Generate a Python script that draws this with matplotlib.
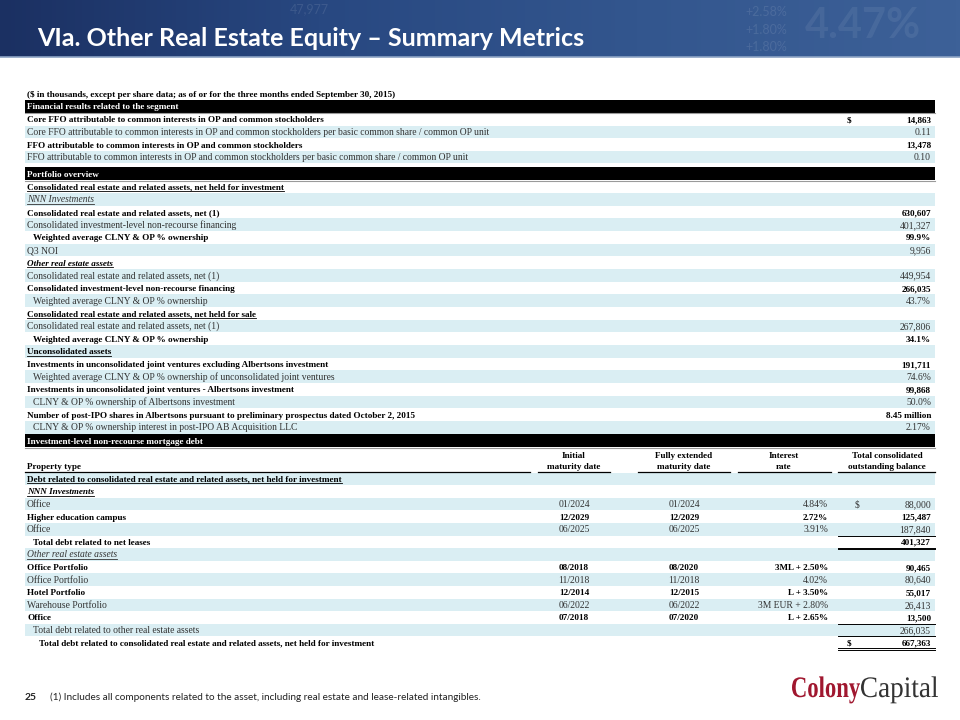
import numpy as np
import matplotlib.pyplot as plt
from matplotlib.colors import LinearSegmentedColormap
from matplotlib.textpath import TextPath
from matplotlib.patches import PathPatch
from matplotlib.font_manager import FontProperties
from matplotlib.transforms import Affine2D

# ---- data ----
subtitle = '($ in thousands, except per share data; as of or for the three months ended September 30, 2015)'

fin_title = 'Financial results related to the segment'
fin_labels = [
    'Core FFO attributable to common interests in OP and common stockholders',
    'Core FFO attributable to common interests in OP and common stockholders per basic common share / common OP unit',
    'FFO attributable to common interests in OP and common stockholders',
    'FFO attributable to common interests in OP and common stockholders per basic common share / common OP unit',
]
fin_values = ['14,863', '0.11', '13,478', '0.10']

port_title = 'Portfolio overview'
port_labels = [
    'Consolidated real estate and related assets, net held for investment',
    'NNN Investments',
    'Consolidated real estate and related assets, net (1)',
    'Consolidated investment-level non-recourse financing',
    'Weighted average CLNY & OP % ownership',
    'Q3 NOI',
    'Other real estate assets',
    'Consolidated real estate and related assets, net (1)',
    'Consolidated investment-level non-recourse financing',
    'Weighted average CLNY & OP % ownership',
    'Consolidated real estate and related assets, net held for sale',
    'Consolidated real estate and related assets, net (1)',
    'Weighted average CLNY & OP % ownership',
    'Unconsolidated assets',
    'Investments in unconsolidated joint ventures excluding Albertsons investment',
    'Weighted average CLNY & OP % ownership of unconsolidated joint ventures',
    'Investments in unconsolidated joint ventures - Albertsons investment',
    'CLNY & OP % ownership of Albertsons investment',
    'Number of post-IPO shares in Albertsons pursuant to preliminary prospectus dated October 2, 2015',
    'CLNY & OP % ownership interest in post-IPO AB Acquisition LLC',
]
port_values = ['', '', '630,607', '401,327', '99.9%', '9,956', '', '449,954', '266,035', '43.7%',
               '', '267,806', '34.1%', '', '191,711', '74.6%', '99,868', '50.0%', '8.45 million', '2.17%']

debt_title = 'Investment-level non-recourse mortgage debt'
debt_headers = ['Property type', 'Initial\nmaturity date', 'Fully extended\nmaturity date',
                'Interest\nrate', 'Total consolidated\noutstanding balance']
debt_labels = [
    'Debt related to consolidated real estate and related assets, net held for investment',
    'NNN Investments',
    'Office',
    'Higher education campus',
    'Office',
    'Total debt related to net leases',
    'Other real estate assets',
    'Office Portfolio',
    'Office Portfolio',
    'Hotel Portfolio',
    'Warehouse Portfolio',
    'Office',
    'Total debt related to other real estate assets',
    'Total debt related to consolidated real estate and related assets, net held for investment',
]
debt_initial = ['', '', '01/2024', '12/2029', '06/2025', '', '', '08/2018', '11/2018', '12/2014', '06/2022', '07/2018', '', '']
debt_extended = ['', '', '01/2024', '12/2029', '06/2025', '', '', '08/2020', '11/2018', '12/2015', '06/2022', '07/2020', '', '']
debt_rate = ['', '', '4.84%', '2.72%', '3.91%', '', '', '3ML + 2.50%', '4.02%', 'L + 3.50%', '3M EUR + 2.80%', 'L + 2.65%', '', '']
debt_balance = ['', '', '88,000', '125,487', '187,840', '401,327', '', '90,465', '80,640', '55,017', '26,413', '13,500', '266,035', '667,363']

# ---- styles (b=bold, i=italic, u=underline, n=normal) ----
fin_styles = ['b', 'n', 'b', 'n']
port_styles = ['bu', 'iu', 'b', 'n', 'b', 'n', 'biu', 'n', 'b', 'n', 'bu', 'n', 'b', 'bu', 'b', 'n', 'b', 'n', 'b', 'n']
port_indent = [0, 0, 0, 0, 1, 0, 0, 0, 0, 1, 0, 0, 1, 0, 0, 1, 0, 1, 0, 1]
debt_styles = ['bu', 'biu', 'n', 'b', 'n', 'b', 'iu', 'b', 'n', 'b', 'n', 'b', 'n', 'b']
debt_indent = [0, 0, 0, 0, 0, 1, 0, 0, 0, 0, 0, 0, 1, 2]

BLUE = '#DAEEF3'
SERIF = 'Liberation Serif'
FS_B = 6.6
FS_N = 6.9
LEFT, RIGHT = 25, 935
VAL_X = 931
BASE = 3.3  # baseline offset above row bottom

fig = plt.figure(figsize=(9.6, 7.2), dpi=100)
ax = fig.add_axes([0, 0, 1, 1])
ax.set_xlim(0, 960)
ax.set_ylim(720, 0)
ax.axis('off')

# header band
cmap = LinearSegmentedColormap.from_list('hdr', ['#1B3062', '#284881', '#33568E', '#3D6198'])
grad = np.linspace(0, 1, 256).reshape(1, -1)
ax.imshow(grad, cmap=cmap, extent=[0, 960, 57, 0], aspect='auto', zorder=0)
for x, y, s in [(290, 9, '47,977'), (745, 12, '+2.58%'), (745, 30, '+1.80%'), (745, 47, '+1.80%')]:
    ax.text(x, y, s, color='white', alpha=0.10, fontsize=9, family='Lato', va='center')
ax.text(805, 26, '4.47%', color='white', alpha=0.07, fontsize=30, family='Lato', va='center', weight='bold')
ax.plot([0, 960], [57, 57], color='#8CA3C4', lw=1.2)
ax.text(37, 39, 'VIa. Other Real Estate Equity \u2013 Summary Metrics', color='white',
        fontsize=18, family='Lato', weight='bold', va='center')

underline = []


def row_text(x, ybot, s, style, color=None, **kw):
    weight = 'bold' if 'b' in style else 'normal'
    fstyle = 'italic' if 'i' in style else 'normal'
    c = color or ('black' if 'b' in style else '#333333')
    fs = FS_B if 'b' in style else FS_N
    t = ax.text(x, ybot - BASE, s, fontsize=fs, family=SERIF, weight=weight, style=fstyle,
                color=c, va='baseline', **kw)
    if 'u' in style:
        underline.append(t)
    return t


def black_bar(y0, y1, title):
    ax.fill_between([LEFT, RIGHT], y0, y1, color='black', lw=0)
    ax.plot([LEFT, RIGHT], [y1 + 0.5, y1 + 0.5], color='#9A9A9A', lw=0.8)
    ax.text(LEFT + 2, y1 - BASE, title, color='white', fontsize=FS_B, family=SERIF,
            weight='bold', va='baseline')


def shade(y0, h, n, first_blue):
    for i in range(n):
        if (i % 2 == 0) == first_blue:
            ax.fill_between([LEFT, RIGHT], y0 + i * h, y0 + (i + 1) * h, color=BLUE, lw=0)


def logo_word(x, y, s, weight, color, width, cap):
    tp = TextPath((0, 0), s, size=10, prop=FontProperties(family=SERIF, weight=weight))
    ext = tp.get_extents()
    capp = TextPath((0, 0), 'C', size=10, prop=FontProperties(family=SERIF, weight=weight)).get_extents()
    sx = width / ext.width
    sy = cap / capp.height
    tr = Affine2D().translate(-ext.x0, 0).scale(sx, -sy).translate(x, y) + ax.transData
    ax.add_patch(PathPatch(tp, transform=tr, color=color, lw=0))


# subtitle
ax.text(LEFT + 2, 97, subtitle, fontsize=FS_B, family=SERIF, weight='bold', va='baseline')

# financial results
black_bar(99.5, 112.5, fin_title)
h = 12.6
y0 = 113
shade(y0, h, len(fin_labels), False)
for i, (lab, val, st) in enumerate(zip(fin_labels, fin_values, fin_styles)):
    yb = y0 + (i + 1) * h
    row_text(LEFT + 2, yb, lab, st)
    row_text(VAL_X, yb, val, st, ha='right')
row_text(847, y0 + h, '$', 'b')

# portfolio overview
black_bar(167, 180, port_title)
h = 12.65
y0 = 180.5
shade(y0, h, len(port_labels), False)
for i, (lab, val, st, ind) in enumerate(zip(port_labels, port_values, port_styles, port_indent)):
    yb = y0 + (i + 1) * h
    row_text(LEFT + 2 + 6 * ind, yb, lab, st)
    if val:
        row_text(VAL_X, yb, val, st.replace('u', '').replace('i', ''), ha='right')

# debt table
black_bar(434, 447, debt_title)
col_c = [None, 574, 684, 784, 887]
col_span = [(LEFT, 530), (538, 610), (638, 730), (738, 831), (838, RIGHT)]
for j, hd in enumerate(debt_headers):
    if j == 0:
        ax.text(LEFT + 2, 469, hd, fontsize=FS_B, family=SERIF, weight='bold', va='baseline')
    else:
        ax.text(col_c[j], 469, hd, fontsize=FS_B, family=SERIF, weight='bold', va='baseline',
                ha='center', linespacing=1.45)
    ax.plot(col_span[j], [472, 472], color='black', lw=0.9)

h = 12.6
y0 = 472.5
shade(y0, h, len(debt_labels), True)
for i, st in enumerate(debt_styles):
    yb = y0 + (i + 1) * h
    vs = st.replace('u', '').replace('i', '')
    row_text(LEFT + 2 + 6 * debt_indent[i], yb, debt_labels[i], st)
    if debt_initial[i]:
        row_text(col_c[1], yb, debt_initial[i], vs, ha='center')
        row_text(col_c[2], yb, debt_extended[i], vs, ha='center')
        row_text(828, yb, debt_rate[i], vs, ha='right')
    if debt_balance[i]:
        row_text(VAL_X, yb, debt_balance[i], vs, ha='right')

# dollar signs and total rules in debt table
row_text(855, y0 + 3 * h, '$', 'n')
row_text(847, y0 + 14 * h, '$', 'b')
ax.plot([838, RIGHT], [y0 + 5 * h, y0 + 5 * h], color='black', lw=0.7)
ax.plot([838, RIGHT], [y0 + 6 * h - 0.6, y0 + 6 * h - 0.6], color='black', lw=0.7)
ax.plot([838, RIGHT], [y0 + 6 * h + 0.8, y0 + 6 * h + 0.8], color='black', lw=0.7)
ax.plot([838, RIGHT], [y0 + 12 * h, y0 + 12 * h], color='black', lw=0.7)
ax.plot([838, RIGHT], [y0 + 13 * h, y0 + 13 * h], color='black', lw=0.7)
ax.plot([838, RIGHT], [y0 + 14 * h - 0.6, y0 + 14 * h - 0.6], color='black', lw=0.7)
ax.plot([838, RIGHT], [y0 + 14 * h + 0.8, y0 + 14 * h + 0.8], color='black', lw=0.7)

# footer
ax.text(25, 698, '25', fontsize=7.4, family='Lato', weight='bold', va='center', color='#222222')
ax.text(50, 697, '(1) Includes all components related to the asset, including real estate and lease-related intangibles.',
        fontsize=7.2, family='Lato', va='center', color='#222222')
logo_word(792, 697, 'Colony', 'bold', '#A0172F', 68, 20)
logo_word(861, 697, 'Capital', 'normal', '#333333', 77, 20)

# underlines for section labels
fig.canvas.draw()
r = fig.canvas.get_renderer()
for t in underline:
    bb = t.get_window_extent(r).transformed(ax.transData.inverted())
    yb = t.get_position()[1] + 1.3
    ax.plot([bb.x0, bb.x1], [yb, yb], color=t.get_color(), lw=0.6)

fig.savefig('out.png', dpi=100)
